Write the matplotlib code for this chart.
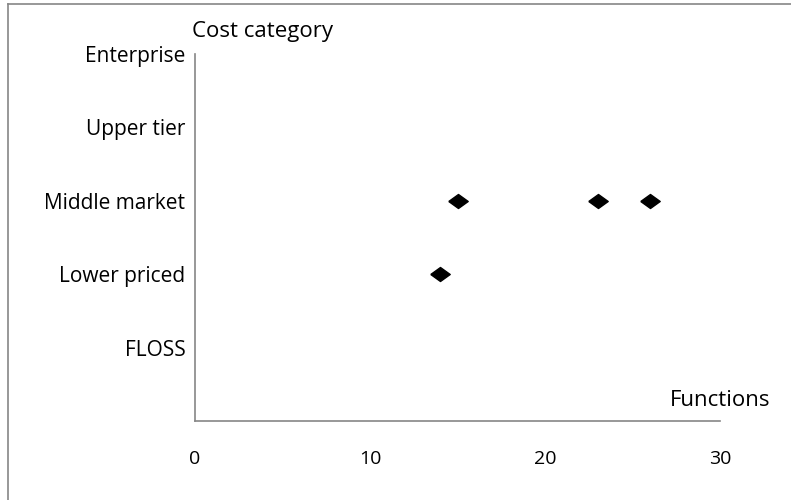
import numpy as np
import matplotlib.pyplot as plt
from matplotlib.lines import Line2D

# data
categories = ['FLOSS', 'Lower priced', 'Middle market', 'Upper tier', 'Enterprise']
functions = [15, 23, 26, 14]
cost_level = [3, 3, 3, 2]
xticks = [0, 10, 20, 30]

plt.rcParams['font.family'] = ['Open Sans', 'DejaVu Sans']

W, H = 791, 500
fig = plt.figure(figsize=(W / 100, H / 100), dpi=100)
ax = fig.add_axes([195 / W, 1 - 421 / H, (720 - 195) / W, (421 - 54) / H])

# diamond marker, wider than tall
diamond = [(-1, 0), (0, 0.72), (1, 0), (0, -0.72), (-1, 0)]
ax.plot(functions, cost_level, linestyle='none', marker=diamond,
        markersize=14, color='black')

ax.set_xlim(0, 30)
ax.set_ylim(0, 5)
ax.set_xticks(xticks)
ax.set_xticklabels([str(t) for t in xticks])
ax.set_yticks(range(1, 6))
ax.set_yticklabels(categories)
ax.tick_params(axis='x', length=0, pad=21, labelsize=14)
ax.tick_params(axis='y', length=0, pad=7, labelsize=15)

for s in ['top', 'right']:
    ax.spines[s].set_visible(False)
for s in ['left', 'bottom']:
    ax.spines[s].set_color('#868686')
    ax.spines[s].set_linewidth(1.2)

fig.text(262 / W, 1 - 31 / H, 'Cost category', ha='center', va='center', fontsize=16)
fig.text(720 / W, 1 - 401 / H, 'Functions', ha='center', va='center', fontsize=16)

# outer chart frame (left and top edges visible)
fig.add_artist(Line2D([8 / W, 8 / W], [0, 1 - 4 / H], transform=fig.transFigure,
                      color='#868686', linewidth=1.2))
fig.add_artist(Line2D([8 / W, 1], [1 - 4 / H, 1 - 4 / H], transform=fig.transFigure,
                      color='#868686', linewidth=1.2))

fig.savefig('out.png', dpi=100)
